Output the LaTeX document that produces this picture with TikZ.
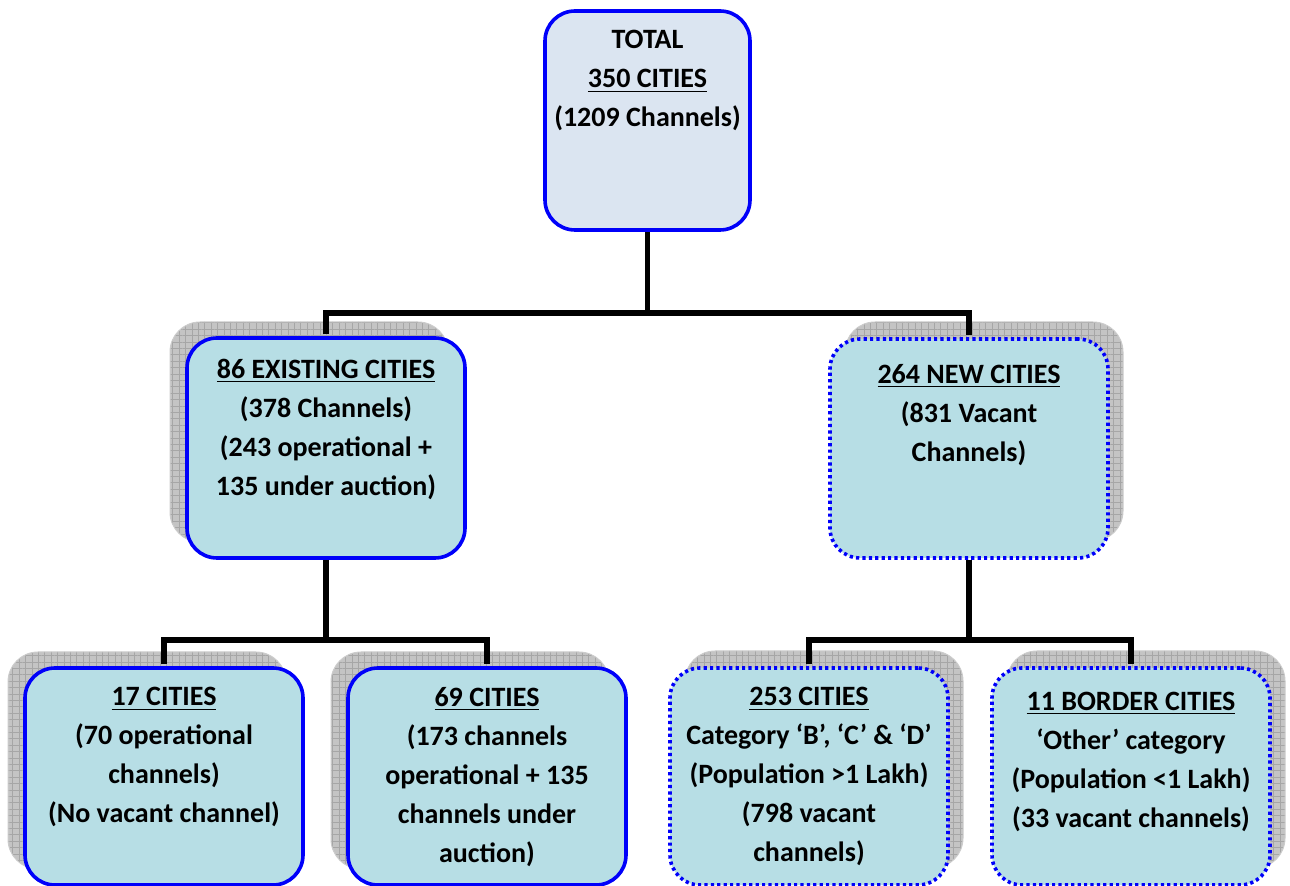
\documentclass[tikz,border=0pt]{standalone}
\usepackage{fontspec}
\setmainfont{Carlito}
\usetikzlibrary{positioning,patterns.meta}
\definecolor{boxblue}{RGB}{0,0,250}
\definecolor{topfill}{RGB}{219,229,241}
\definecolor{boxfill}{RGB}{183,222,229}
\definecolor{shadowgray}{RGB}{196,196,196}
\tikzset{
  cityframe/.style={rounded corners=15pt, fill=boxfill, draw=boxblue, line width=1.8pt, inner sep=0pt},
  solidbox/.style={cityframe},
  dotbox/.style={cityframe, dash pattern=on 1.6pt off 1.6pt},
  shadowbox/.style={rounded corners=15pt, inner sep=0pt, draw=gray!40, line width=0.5pt,
    preaction={fill=shadowgray}, pattern={Hatch[angle=0,distance=3.2pt,line width=0.35pt]}, pattern color=gray!70},
  citytext/.style={align=center, inner sep=0pt, font=\bfseries\fontsize{14}{19.5}\selectfont},
  link/.style={line width=2.8pt},
}
\begin{document}
\begin{tikzpicture}[x=0.5pt, y=-0.5pt]
  \clip (0,0) rectangle (1290,886);
  % shadows
  \node[shadowbox, minimum width=139pt, minimum height=110pt] (ex-s) at (309, 432) {};
  \node[shadowbox, minimum width=139pt, minimum height=109.5pt] (nw-s) at (984, 431.5) {};
  \node[shadowbox, minimum width=139pt, minimum height=108.5pt] (c17-s) at (147, 760.5) {};
  \node[shadowbox, minimum width=139pt, minimum height=108.5pt] (c69-s) at (470, 760.5) {};
  \node[shadowbox, minimum width=139pt, minimum height=108.5pt] (c253-s) at (824, 759.5) {};
  \node[shadowbox, minimum width=139pt, minimum height=108.5pt] (c11-s) at (1146, 759.5) {};
  % boxes
  \node[solidbox, fill=topfill, minimum width=102.5pt, minimum height=109.5pt] (tot) at (647.5, 120.5) {};
  \node[solidbox, minimum width=139pt, minimum height=110pt] (ex) at (326, 448) {};
  \node[dotbox, minimum width=139pt, minimum height=109.5pt] (nw) at (969, 448.5) {};
  \node[solidbox, minimum width=139pt, minimum height=108.5pt] (c17) at (164, 776.5) {};
  \node[solidbox, minimum width=139pt, minimum height=108.5pt] (c69) at (487, 776.5) {};
  \node[dotbox, minimum width=139pt, minimum height=108.5pt] (c253) at (809, 776.5) {};
  \node[dotbox, minimum width=139pt, minimum height=108.5pt] (c11) at (1131, 776.5) {};
  % texts
  \node[citytext, below=10.5pt of tot.north] (tot-t) {TOTAL\\ \underline{350 CITIES}\\ (1209 Channels)};
  \node[citytext, below=11.2pt of ex.north] (ex-t) {\underline{86 EXISTING CITIES}\\ (378 Channels)\\ (243 operational +\\ 135 under auction)};
  \node[citytext, below=13.3pt of nw.north] (nw-t) {\underline{264 NEW CITIES}\\ (831 Vacant\\ Channels)};
  \node[citytext, below=10.5pt of c17.north] (c17-t) {\underline{17 CITIES}\\ (70 operational\\ channels)\\ (No vacant channel)};
  \node[citytext, below=10.5pt of c69.north] (c69-t) {\underline{69 CITIES}\\ (173 channels\\ operational + 135\\ channels under\\ auction)};
  \node[citytext, below=10.5pt of c253.north] (c253-t) {\underline{253 CITIES}\\ Category ‘B’, ‘C’ \& ‘D’\\ (Population >1 Lakh)\\ (798 vacant\\ channels)};
  \node[citytext, below=12.8pt of c11.north] (c11-t) {\underline{11 BORDER CITIES}\\ ‘Other’ category\\ (Population <1 Lakh)\\ (33 vacant channels)};
  % connectors
  \coordinate (bus0) at (647.5, 313);
  \coordinate (bus1) at (326, 640);
  \coordinate (bus2) at (969, 640);
  \draw[link] (tot.south) -- (bus0);
  \draw[link, shorten <=0.9pt, shorten >=0.9pt] (ex.north) |- (bus0) -| (nw.north);
  \draw[link] (ex.south) -- (bus1);
  \draw[link, shorten <=0.9pt, shorten >=0.9pt] (c17.north) |- (bus1) -| (c69.north);
  \draw[link] (nw.south) -- (bus2);
  \draw[link, shorten <=0.9pt, shorten >=0.9pt] (c253.north) |- (bus2) -| (c11.north);
\end{tikzpicture}
\end{document}
